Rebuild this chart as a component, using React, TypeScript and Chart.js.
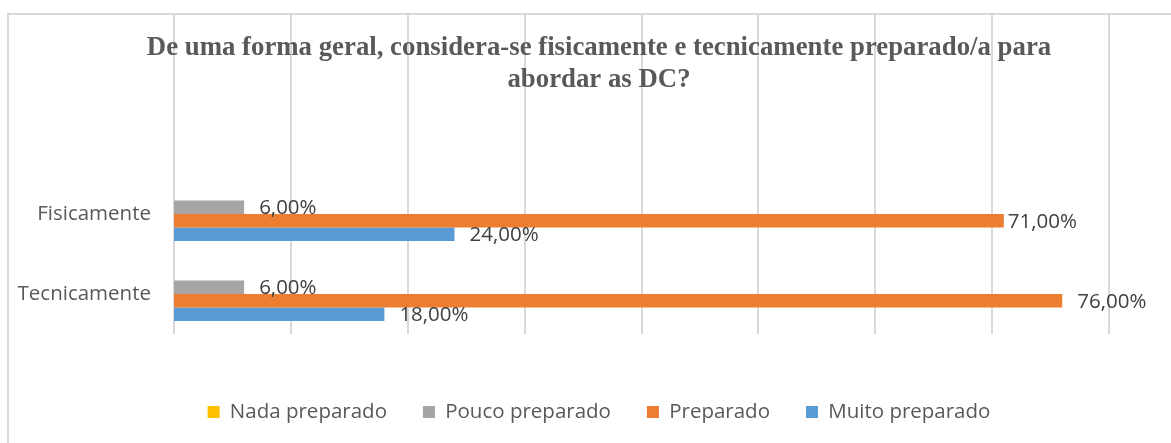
import React, { useEffect, useRef } from "react";
import { Chart, registerables } from "chart.js";

Chart.register(...registerables);

const categories = ["Fisicamente", "Tecnicamente"];
const seriesNames = ["Nada preparado", "Pouco preparado", "Preparado", "Muito preparado"];
const nadaPreparado: (number | null)[] = [null, null];
const poucoPreparado = [0.06, 0.06];
const preparado = [0.71, 0.76];
const muitoPreparado = [0.24, 0.18];
const titleLines = [
  "De uma forma geral, considera-se fisicamente e tecnicamente preparado/a para",
  "abordar as DC?",
];
const axisMax = 0.8;
const axisStep = 0.1;

const COLORS = ["#FFC000", "#A5A5A5", "#ED7D31", "#5B9BD5"];
const SANS = "'Open Sans', 'Noto Sans', sans-serif";
const SERIF = "'Liberation Serif', 'Times New Roman', serif";
const FONT_SIZE = 20.5;
const GRID_COLOR = "#d9d9d9";

// nudges (px) for individual data labels, keyed "dataset|index"
const LABEL_NUDGE: Record<string, number> = { "2|0": -11 };

// frame + value gridlines (extended up to the frame top), drawn under everything else
const backgroundPlugin = {
  id: "bgFrameGrid",
  beforeDraw(chart: any) {
    const { ctx, width, height, chartArea } = chart;
    const xs = chart.scales.x;
    ctx.save();
    ctx.strokeStyle = GRID_COLOR;
    ctx.lineWidth = 2;
    ctx.beginPath();
    ctx.moveTo(8, height + 2);
    ctx.lineTo(8, 14);
    ctx.lineTo(width + 2, 14);
    ctx.stroke();
    xs.ticks.forEach((t: any) => {
      const px = Math.round(xs.getPixelForValue(t.value));
      ctx.beginPath();
      ctx.moveTo(px, 15);
      ctx.lineTo(px, chartArea.bottom);
      ctx.stroke();
    });
    ctx.restore();
  },
};

// category labels on the left, right-aligned against the plot (drawn unclipped)
const categoryLabelPlugin = {
  id: "catLabels",
  afterDraw(chart: any) {
    const { ctx, chartArea } = chart;
    const ys = chart.scales.y;
    ctx.save();
    ctx.font = `${FONT_SIZE}px ${SANS}`;
    ctx.fillStyle = "#595959";
    ctx.textAlign = "right";
    ctx.textBaseline = "middle";
    ys.ticks.forEach((t: any, i: number) => {
      const py = ys.getPixelForTick(i);
      ctx.fillText(ys.getLabelForValue(t.value), chartArea.left - 23, py);
    });
    ctx.restore();
  },
};

const labelPlugin = {
  id: "barLabels",
  afterDatasetsDraw(chart: any) {
    const { ctx } = chart;
    ctx.save();
    ctx.font = `${FONT_SIZE}px ${SANS}`;
    ctx.fillStyle = "#404040";
    ctx.textAlign = "left";
    ctx.textBaseline = "middle";
    chart.data.datasets.forEach((ds: any, di: number) => {
      const meta = chart.getDatasetMeta(di);
      meta.data.forEach((el: any, i: number) => {
        const v = ds.data[i];
        if (v === null || v === undefined) return;
        const text = (v * 100).toFixed(2).replace(".", ",") + "%";
        const nudge = LABEL_NUDGE[`${di}|${i}`] || 0;
        ctx.fillText(text, el.x + 15 + nudge, el.y + 1);
      });
    });
    ctx.restore();
  },
};

export default function App() {
  const ref = useRef<HTMLCanvasElement | null>(null);

  useEffect(() => {
    if (!ref.current) return;
    const seriesData = [nadaPreparado, poucoPreparado, preparado, muitoPreparado];
    const chart = new Chart(ref.current, {
      type: "bar",
      data: {
        labels: categories,
        datasets: seriesNames.map((name, k) => ({
          label: name,
          data: seriesData[k],
          backgroundColor: COLORS[k],
          borderWidth: 0,
          categoryPercentage: 0.675,
          barPercentage: 1,
        })),
      },
      options: {
        indexAxis: "y",
        animation: false,
        responsive: false,
        devicePixelRatio: 1,
        layout: { padding: { left: 89, right: 62, top: 0, bottom: 10.75 } },
        scales: {
          x: {
            min: 0,
            max: axisMax,
            ticks: { display: false, stepSize: axisStep },
            grid: { display: false },
            border: { display: false },
            afterFit: (s: any) => {
              s.height = 31.75;
            },
          },
          y: {
            ticks: { display: false },
            grid: { display: false },
            border: { display: false },
            afterFit: (s: any) => {
              s.width = 85;
            },
          },
        },
        plugins: {
          title: {
            display: true,
            text: titleLines,
            color: "#595959",
            font: { family: SERIF, size: 26.8, weight: "bold", lineHeight: 1.16 },
            padding: { top: 33, bottom: 78.8 },
          },
          legend: {
            display: true,
            position: "bottom",
            labels: {
              color: "#595959",
              font: { family: SANS, size: FONT_SIZE },
              boxWidth: 12,
              boxHeight: 12,
              padding: 36,
            },
          },
          tooltip: { enabled: false },
        },
      },
      plugins: [backgroundPlugin, labelPlugin, categoryLabelPlugin],
    } as any);
    return () => chart.destroy();
  }, []);

  return (
    <div style={{ position: "absolute", left: 0, top: 0, width: 1171, height: 443, background: "#fff" }}>
      <canvas ref={ref} width={1171} height={443} style={{ display: "block" }} />
    </div>
  );
}
